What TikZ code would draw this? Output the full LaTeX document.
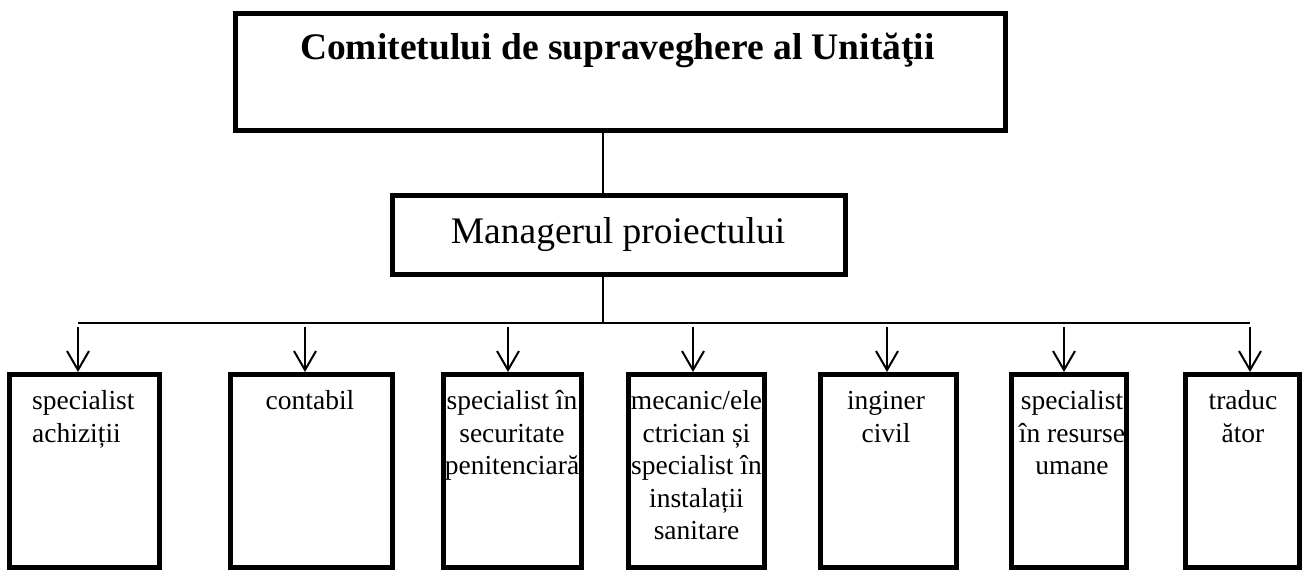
\documentclass[tikz,border=0pt]{standalone}
\usepackage{fontspec}
\setmainfont{Liberation Serif}
\usetikzlibrary{arrows.meta}
\begin{document}
\begin{tikzpicture}[x=1pt,y=-1pt,
  box/.style={draw, rectangle, line width=5pt, inner sep=0pt, outer sep=2.5pt},
  lbl/.style={inner sep=0pt, font=\fontsize{27.5}{32.5}\selectfont, align=center, anchor=north},
  conn/.style={line width=2pt},
  arr/.style={line width=2pt, -{Straight Barb[length=19pt,width=22pt,line width=2pt]}}]
\useasboundingbox (0,0) rectangle (1306,571);

% top boxes
\node[box, minimum width=770pt, minimum height=117pt] (top) at (620.5,72) {};
\node[inner sep=0pt, anchor=base, font=\fontsize{37.5}{44}\selectfont\bfseries] (ttop) at (617.5,59) {Comitetului de supraveghere al Unităţii};
\node[box, minimum width=453pt, minimum height=79pt] (mgr) at (619,235) {};
\node[inner sep=0pt, anchor=base, font=\fontsize{37.5}{44}\selectfont] (tmgr) at (618,243) {Managerul proiectului};

% bottom boxes
\node[box, minimum width=150pt, minimum height=193pt] (b1) at (84.5,471) {};
\node[box, minimum width=162pt, minimum height=193pt] (b2) at (311.5,471) {};
\node[box, minimum width=138pt, minimum height=193pt] (b3) at (512.5,471) {};
\node[box, minimum width=136pt, minimum height=193pt] (b4) at (696.5,471) {};
\node[box, minimum width=136pt, minimum height=193pt] (b5) at (888.5,471) {};
\node[box, minimum width=115pt, minimum height=193pt] (b6) at (1069,471) {};
\node[box, minimum width=114pt, minimum height=193pt] (b7) at (1242.5,471) {};

\node[lbl, align=left, anchor=north west] (t1) at (32,387) {\strut specialist\\achiziții};
\node[lbl] (t2) at (310,387) {\strut contabil};
\node[lbl] (t3) at (512,387) {\strut specialist în\\securitate\\penitenciară};
\node[lbl] (t4) at (696.5,387) {\strut mecanic/ele\\ctrician și\\specialist în\\instalații\\sanitare};
\node[lbl] (t5) at (886,387) {\strut inginer\\civil};
\node[lbl] (t6) at (1072,387) {\strut specialist\\în resurse\\umane};
\node[lbl] (t7) at (1243,387) {\strut traduc\\ător};

% connectors
\coordinate (j) at (603,323);
\coordinate (busL) at (78,323);
\coordinate (busR) at (1250,323);
\draw[conn] (j |- top.south) -- (j |- mgr.north);
\draw[conn] (j |- mgr.south) -- (j);
\draw[conn] (busL) -- (busR);

\coordinate (a1) at (78,327);
\coordinate (a2) at (305,327);
\coordinate (a3) at (508,327);
\coordinate (a4) at (693,327);
\coordinate (a5) at (887,327);
\coordinate (a6) at (1064,327);
\coordinate (a7) at (1250,327);
\foreach \i in {1,...,7} {
  \draw[arr] (a\i) -- (a\i |- b\i.north);
}
\end{tikzpicture}
\end{document}
